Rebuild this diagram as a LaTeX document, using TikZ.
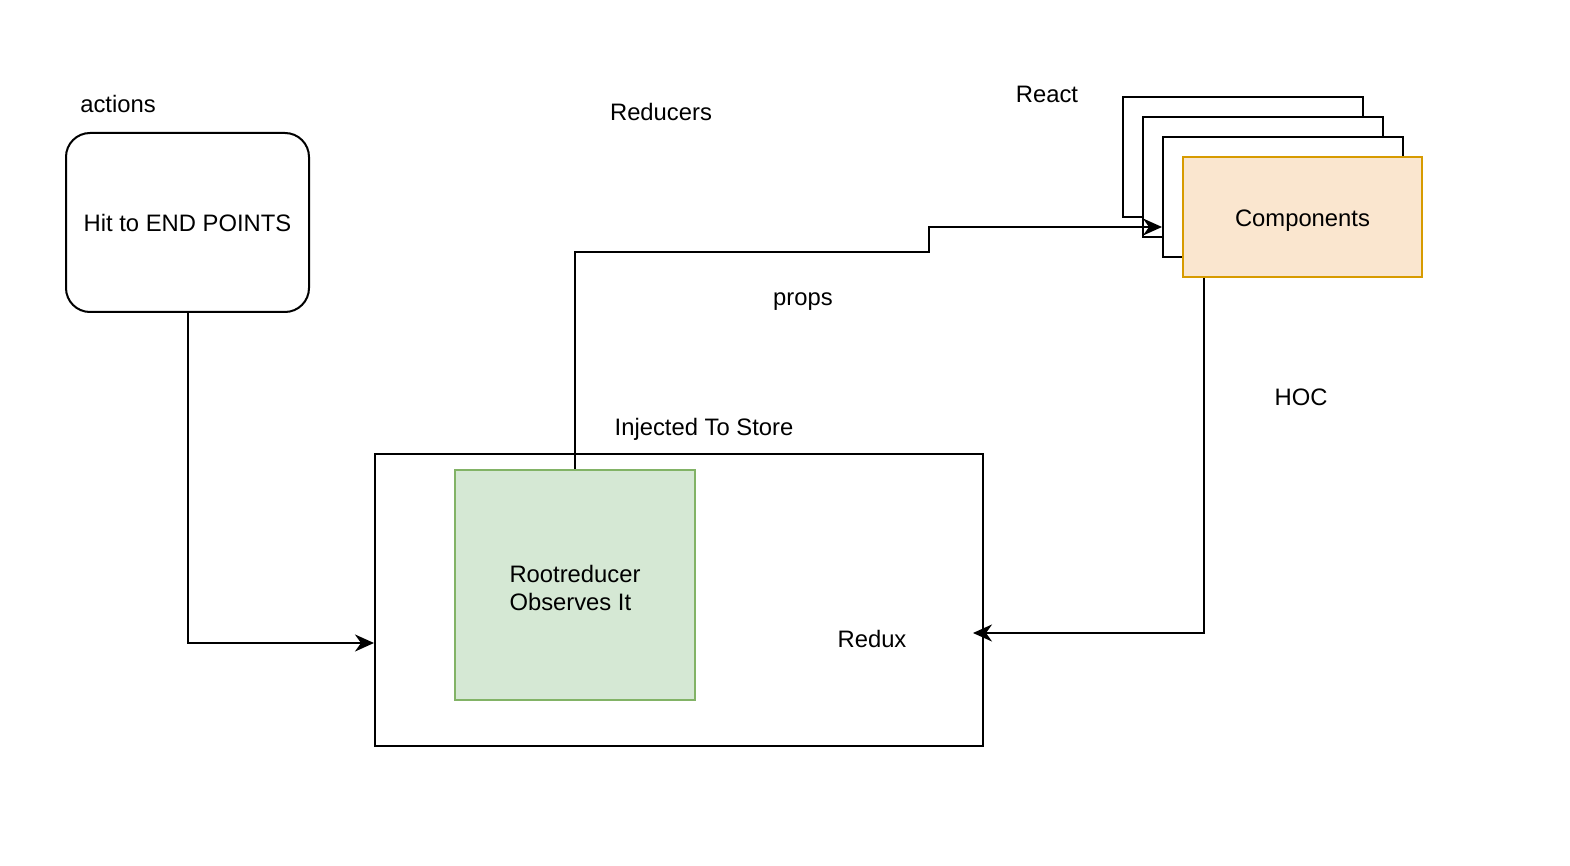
\documentclass[tikz,border=0pt]{standalone}
\usepackage{fontspec}
\setmainfont{Liberation Sans}
\usetikzlibrary{arrows.meta}
\definecolor{orfill}{HTML}{FAE6CF}
\definecolor{ordraw}{HTML}{D79B00}
\definecolor{grfill}{HTML}{D5E8D4}
\definecolor{grdraw}{HTML}{82B366}
\begin{document}
\begin{tikzpicture}[x=0.5pt,y=-0.5pt,
  box/.style={draw=black,line width=1pt,rectangle,inner sep=0pt},
  lbl/.style={font=\fontsize{11.9}{14}\selectfont,inner sep=0pt,text height=0.72em,text depth=0pt},
  conn/.style={line width=1pt,-{Stealth[length=9.5pt,width=8.5pt,inset=3pt]}}]
\useasboundingbox (-1,-1) rectangle (1569,865);
% Hit box
\node[box,rounded corners=12pt,minimum width=243*0.5pt,minimum height=179*0.5pt] (hit) at (186.5,221.5) {};
\node[lbl] (hittxt) at (186.5,223) {Hit to END POINTS};
\node[lbl] (actions) at (117,104) {actions};
\node[lbl] (reducers) at (660,112) {Reducers};
\node[lbl] (react) at (1046,94) {React};
% stack
\node[box,fill=white,minimum width=240*0.5pt,minimum height=120*0.5pt] (s1) at (1242,156) {};
\node[box,fill=white,minimum width=240*0.5pt,minimum height=120*0.5pt] (s2) at (1262,176) {};
\node[box,fill=white,minimum width=240*0.5pt,minimum height=120*0.5pt] (s3) at (1282,196) {};
\node[box,draw=ordraw,fill=orfill,minimum width=239*0.5pt,minimum height=120*0.5pt] (comp) at (1301.5,216) {};
\node[lbl] (comptxt) at (1301.5,218) {Components};
% Redux
\node[box,minimum width=608*0.5pt,minimum height=292*0.5pt] (redux) at (678,599) {};
\node[box,draw=grdraw,fill=grfill,minimum width=240*0.5pt,minimum height=230*0.5pt] (root) at (574,584) {};
\node[font=\fontsize{11.9}{14}\selectfont,inner sep=0pt,align=left] (roottxt) at (574,587) {Rootreducer\\Observes It};
\node[lbl] (reduxtxt) at (871,639) {Redux};
\node[lbl] (inj) at (703,427) {Injected To Store};
\node[lbl] (props) at (802,297) {props};
\node[lbl] (hoc) at (1300,397) {HOC};
% connectors
\coordinate (hitend) at (374,642);
\draw[conn] (hit.south) |- (redux.west |- hitend);
\coordinate (p1) at (574,251);
\coordinate (p2) at (928,251);
\coordinate (p3) at (928,226);
\draw[conn] (root.north) -- (p1) -- (p2) -- (p3) -- (s3.west |- p3);
\coordinate (q1) at (1203,632);
\coordinate (q2) at (972,632);
\draw[conn] (comp.south -| q1) -- (q1) -- (q2);
\end{tikzpicture}
\end{document}
